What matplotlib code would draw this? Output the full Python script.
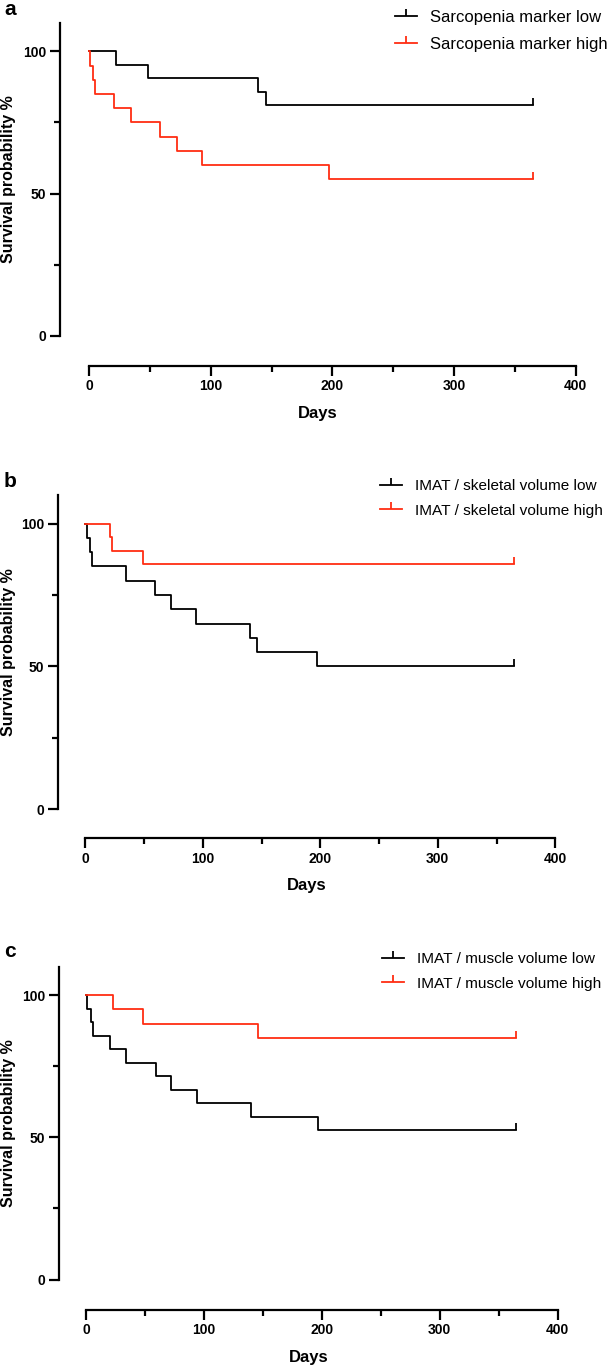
import matplotlib
matplotlib.use('Agg')
import matplotlib.pyplot as plt
from matplotlib.path import Path
from matplotlib.lines import Line2D

plt.rcParams['font.family'] = ['Liberation Sans', 'DejaVu Sans']

# Panel a: sarcopenia marker
a_low_days = [0, 22, 48, 139, 145, 365]
a_low_surv = [100, 95.2, 90.5, 85.7, 81.0, 81.0]
a_high_days = [0, 1, 3, 5, 20, 34, 58, 72, 93, 197, 365]
a_high_surv = [100, 95, 90, 85, 80, 75, 70, 65, 60, 55, 55]

# Panel b: IMAT / skeletal volume
b_low_days = [0, 1, 4, 6, 35, 59, 73, 94, 140, 146, 197, 365]
b_low_surv = [100, 95, 90, 85, 80, 75, 70, 65, 60, 55, 50, 50]
b_high_days = [0, 21, 23, 49, 365]
b_high_surv = [100, 95.2, 90.5, 85.7, 85.7]

# Panel c: IMAT / muscle volume
c_low_days = [0, 1, 4, 6, 20, 34, 59, 72, 94, 140, 197, 365]
c_low_surv = [100, 95.2, 90.5, 85.7, 81.0, 76.2, 71.4, 66.7, 61.9, 57.1, 52.4, 52.4]
c_high_days = [0, 23, 48, 146, 365]
c_high_surv = [100, 95, 90, 85, 85]

panel_letters = ['a', 'b', 'c']
legend_labels = [
    ['Sarcopenia marker low', 'Sarcopenia marker high'],
    ['IMAT / skeletal volume low', 'IMAT / skeletal volume high'],
    ['IMAT / muscle volume low', 'IMAT / muscle volume high'],
]
curves = [
    (a_low_days, a_low_surv, a_high_days, a_high_surv),
    (b_low_days, b_low_surv, b_high_days, b_high_surv),
    (c_low_days, c_low_surv, c_high_days, c_high_surv),
]

RED = '#ff2d12'
W, H = 608, 1365
# censor tick pointing up
tick_up = Path([(0, 0), (0, 1)])

fig = plt.figure(figsize=(W / 100, H / 100), dpi=100)

# pixel layout per panel
layout = [
    dict(spine=60, right=575.8, y0=335.6, ytop=23, off=30, xleft=-24, let_y=15,
         leg_x=395, leg_y=19, leg_fs=12),
    dict(spine=58.2, right=555.3, y0=809.3, ytop=495, off=28.4, xleft=-23.1, let_y=487,
         leg_x=380, leg_y=488, leg_fs=11.1),
    dict(spine=58.9, right=557.6, y0=1279.5, ytop=966.7, off=30, xleft=-23.1, let_y=957,
         leg_x=382, leg_y=961, leg_fs=11.1),
]

for i, L in enumerate(layout):
    ax = fig.add_axes([L['spine'] / W, 1 - L['y0'] / H,
                       (L['right'] - L['spine']) / W, (L['y0'] - L['ytop']) / H])
    low_d, low_s, high_d, high_s = curves[i]

    ax.step(low_d, low_s, where='post', color='black', lw=1.3, clip_on=False)
    ax.step(high_d, high_s, where='post', color=RED, lw=1.3, clip_on=False)
    ax.plot(low_d[-1], low_s[-1], marker=tick_up, ms=10, mew=1.3, color='black',
            clip_on=False)
    ax.plot(high_d[-1], high_s[-1], marker=tick_up, ms=10, mew=1.3, color=RED,
            clip_on=False)

    ax.set_xlim(L['xleft'], 400)
    ax.set_ylim(0, 110)

    ax.spines['top'].set_visible(False)
    ax.spines['right'].set_visible(False)
    ax.spines['left'].set_linewidth(1.6)
    ax.spines['bottom'].set_linewidth(1.6)
    ax.spines['left'].set_bounds(0, 110)
    ax.spines['bottom'].set_bounds(0, 400)
    ax.spines['bottom'].set_position(('outward', L['off'] * 0.72))

    ax.set_xticks([0, 100, 200, 300, 400])
    ax.set_xticks([50, 150, 250, 350], minor=True)
    ax.set_yticks([0, 50, 100])
    ax.set_yticks([25, 75], minor=True)
    ax.tick_params(which='major', length=7, width=1.6, labelsize=10, pad=3)
    ax.tick_params(which='minor', length=4.5, width=1.6)
    for lab in ax.get_xticklabels() + ax.get_yticklabels():
        lab.set_fontweight('bold')

    ax.set_xlabel('Days', fontsize=12, fontweight='bold', labelpad=9)
    ax.set_ylabel('Survival probability %', fontsize=11.5, fontweight='bold')
    ax.yaxis.set_label_coords((16 - L['spine']) / (L['right'] - L['spine']), 0.5)

    fig.text(4 / W, 1 - L['let_y'] / H, panel_letters[i], fontsize=15,
             fontweight='bold', va='baseline', ha='left')

    handles = [
        Line2D([], [], color='black', lw=1.3, marker=tick_up, ms=10, mew=1.3,
               markevery=[1]),
        Line2D([], [], color=RED, lw=1.3, marker=tick_up, ms=10, mew=1.3,
               markevery=[1]),
    ]
    fs = L['leg_fs']
    ax.legend(handles, legend_labels[i], loc='upper left', frameon=False,
              fontsize=fs, handlelength=16 / fs, handletextpad=9.5 / fs,
              labelspacing=0.7, borderpad=0, borderaxespad=0,
              bbox_to_anchor=(L['leg_x'] / W, 1 - (L['leg_y'] - 9) / H),
              bbox_transform=fig.transFigure)

fig.savefig('out.png', dpi=100)
